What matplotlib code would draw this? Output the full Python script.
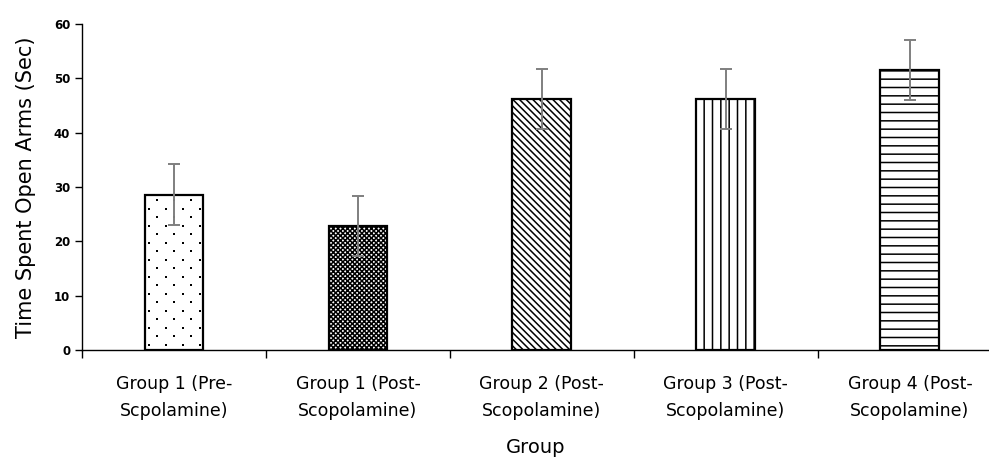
import matplotlib.pyplot as plt
import numpy as np

groups = ['Group 1 (Pre-\nScpolamine)', 'Group 1 (Post-\nScopolamine)',
          'Group 2 (Post-\nScopolamine)', 'Group 3 (Post-\nScopolamine)',
          'Group 4 (Post-\nScopolamine)']
time_open_arms = [28.6, 22.8, 46.2, 46.2, 51.6]
sem = [5.6, 5.5, 5.6, 5.6, 5.5]
hatches = [None, 'xxxxxxx', '\\\\\\\\\\', '||', '--']

plt.rcParams['font.family'] = 'DejaVu Sans'
plt.rcParams['hatch.linewidth'] = 1.1

fig = plt.figure(figsize=(9.89, 4.69), dpi=100)
ax = fig.add_axes([0.0829, 0.2537, 0.9171, 0.6951])

x = np.arange(len(groups))
bar_w = 0.32
bars = []
for i in range(len(groups)):
    b = ax.bar(x[i], time_open_arms[i], width=bar_w, color='white',
               edgecolor='black', linewidth=1.6, hatch=hatches[i], zorder=2)
    bars.append(b[0])
ax.errorbar(x, time_open_arms, yerr=sem, fmt='none', ecolor='#7f7f7f',
            elinewidth=1.4, capsize=4.6, capthick=1.4, zorder=4)

ax.set_xlim(-0.5, 4.43)
ax.set_ylim(0, 60)

# stippled fill for the first bar: staggered rows of small dots
px_x = (4.43 + 0.5) / (fig.get_figwidth() * fig.dpi * 0.9171)
px_y = 60 / (fig.get_figheight() * fig.dpi * 0.6951)
dot_pts = []
row_step = 8.5 * px_y
col_step = 17 * px_x
for r, yy in enumerate(np.arange(row_step * 0.6, time_open_arms[0], row_step)):
    shift = 0 if r % 2 == 0 else col_step / 2
    for xx in np.arange(x[0] - bar_w / 2 + 4 * px_x + shift,
                        x[0] + bar_w / 2 - 2 * px_x, col_step):
        dot_pts.append((xx, yy))
dot_pts = np.array(dot_pts)
dots = ax.scatter(dot_pts[:, 0], dot_pts[:, 1], s=3.2, color='black',
                  marker='s', linewidths=0, zorder=3)
dots.set_clip_path(bars[0])

ax.set_yticks(range(0, 61, 10))
ax.set_xticks(x)
ax.set_xticklabels(groups, fontsize=12.5, linespacing=1.65)
ax.set_xticks(np.arange(-0.5, 4.5, 1), minor=True)
ax.tick_params(axis='x', which='major', length=0, pad=18)
ax.tick_params(axis='x', which='minor', length=6, width=1)
ax.tick_params(axis='y', length=5, width=1, labelsize=8.5)
for lab in ax.get_yticklabels():
    lab.set_fontweight('bold')

for side in ['top', 'right']:
    ax.spines[side].set_visible(False)
ax.spines['left'].set_linewidth(1)
ax.spines['bottom'].set_linewidth(1)

ax.set_ylabel('Time Spent Open Arms (Sec)', fontsize=15, labelpad=13)
ax.set_xlabel('Group', fontsize=14, labelpad=13)

plt.savefig('out.png', dpi=100)
